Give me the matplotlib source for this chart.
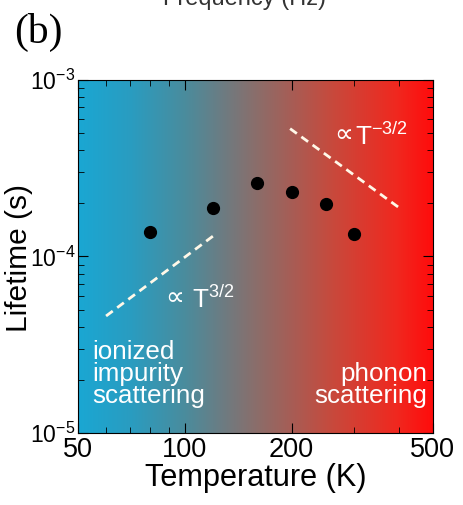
import numpy as np
import matplotlib
matplotlib.use('Agg')
from matplotlib import pyplot as plt
from matplotlib import font_manager
from matplotlib.colors import LinearSegmentedColormap

# narrow sans looks closest to the (vertically stretched) lettering of the original
names = {f.name for f in font_manager.fontManager.ttflist}
if 'Liberation Sans Narrow' in names:
    main_font, k = 'Liberation Sans Narrow', 1.0
else:
    main_font, k = 'Liberation Sans', 0.85

plt.rcParams['font.family'] = [main_font, 'DejaVu Sans']
plt.rcParams['mathtext.fontset'] = 'custom'
plt.rcParams['mathtext.rm'] = main_font
plt.rcParams['mathtext.it'] = main_font

# data
temp = [80, 120, 160, 200, 250, 300]
lifetime = [1.38e-4, 1.88e-4, 2.6e-4, 2.32e-4, 1.98e-4, 1.34e-4]

# guide lines  (~T^3/2 and ~T^-3/2)
low_T = [60, 121]
low_tau = [4.6e-5, 1.32e-4]
high_T = [198, 403]
high_tau = [5.3e-4, 1.88e-4]

xticks = [50, 100, 200, 500]
yticks = [1e-5, 1e-4, 1e-3]
ytick_labels = [r'$10^{-5}$', r'$10^{-4}$', r'$10^{-3}$']

fig = plt.figure(figsize=(4.64, 5.05), dpi=100)
ax = fig.add_axes([0.168, 0.1426, 0.765, 0.699])

# background gradient blue -> grey -> red
cmap = LinearSegmentedColormap.from_list('bg', [
    (0.0, '#1aa7d3'), (0.15, '#2a9cc0'), (0.3, '#4a8c9d'), (0.5, '#8a6e6b'),
    (0.72, '#c8493c'), (0.9, '#f0281f'), (1.0, '#ff0c0c')])
grad = np.linspace(0, 1, 256).reshape(1, -1)
ax.imshow(grad, aspect='auto', cmap=cmap, extent=[0, 1, 0, 1],
          transform=ax.transAxes, zorder=0, interpolation='bicubic')

ax.set_xscale('log')
ax.set_yscale('log')
ax.set_xlim(50, 500)
ax.set_ylim(1e-5, 1e-3)

ax.plot(temp, lifetime, 'o', color='black', markersize=8.5, zorder=3)
ax.plot(low_T, low_tau, '--', color='#fff8e8', lw=2.0, dashes=(3, 2), zorder=2)
ax.plot(high_T, high_tau, '--', color='#fff8e8', lw=2.0, dashes=(3, 2), zorder=2)

ax.text(88, 5.3e-5, '\u221d', family='DejaVu Sans', color='white', fontsize=19,
        ha='left', va='baseline')
ax.text(105, 5.12e-5, r'T$^{3/2}$', color='white', fontsize=22 * k, ha='left', va='baseline')
ax.text(264, 4.45e-4, '\u221d', family='DejaVu Sans', color='white', fontsize=19,
        ha='left', va='baseline')
ax.text(302, 4.28e-4, r'T$^{-3/2}$', color='white', fontsize=22 * k, ha='left', va='baseline')

ax.text(55, 1.39e-5, 'ionized\nimpurity\nscattering', color='white', fontsize=22 * k,
        ha='left', va='bottom', linespacing=0.88)
ax.text(481, 1.39e-5, 'phonon\nscattering', color='white', fontsize=22 * k,
        ha='right', va='bottom', linespacing=0.88)

ax.set_xticks(xticks)
ax.set_xticklabels([str(t) for t in xticks])
ax.set_yticks(yticks)
ax.set_yticklabels(ytick_labels)
ax.tick_params(which='both', direction='in', top=True, right=True)
ax.tick_params(which='major', length=7)
ax.tick_params(which='minor', length=4)
ax.tick_params(axis='x', labelsize=23 * k, pad=3)
ax.tick_params(axis='y', labelsize=16.5, pad=2)
ax.xaxis.set_minor_formatter(plt.NullFormatter())
ax.yaxis.set_minor_formatter(plt.NullFormatter())

ax.set_xlabel('Temperature (K)', fontsize=26 * k, labelpad=0)
ax.set_ylabel('Lifetime (s)', fontsize=21.5, family='Liberation Sans')
ax.yaxis.set_label_coords(-0.126, 0.496)

fig.text(0.03, 1 - 32 / 505, '(b)', family='Liberation Serif', fontsize=30, va='center')
fig.text(0.528, 1 - 5 / 505, 'Frequency (Hz)', fontsize=20 * k, ha='center',
         va='baseline', color='#333333')

fig.savefig('out.png', dpi=100)
